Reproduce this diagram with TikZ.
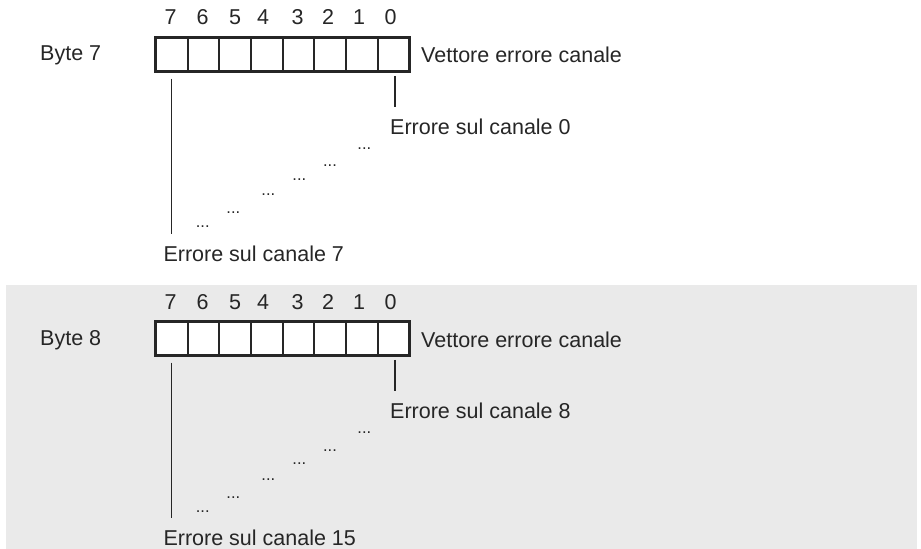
\documentclass[tikz,border=0pt]{standalone}
\usepackage{fontspec}
\setmainfont{Liberation Sans}
\definecolor{ink}{HTML}{262626}
\definecolor{panel}{HTML}{EAEAEA}
\begin{document}
\begin{tikzpicture}[x=1bp,y=-1bp,
  txt/.style={inner sep=0pt,text=ink,font=\fontsize{21.5bp}{25bp}\selectfont},
  dotslbl/.style={inner sep=0pt,text=ink,font=\fontsize{16.5bp}{19bp}\selectfont},
  cell/.style={draw=ink,line width=1.8bp,minimum width=31.67bp,minimum height=33bp,inner sep=0pt,fill=white},
  frame/.style={draw=ink,line width=2.4bp},
  conn/.style={draw=ink,line width=1.1bp}]
\useasboundingbox (0,0) rectangle (921,549);
\fill[panel] (6,285) rectangle (917,549);
\foreach \off/\byte/\lo/\hi in {0/7/0/7,284/8/8/15}{
  \begin{scope}[yshift=-\off bp]
  \foreach \b in {0,...,7}{
    \node[cell] (c\byte b\b) at ({156+15.83+(7-\b)*31.67},54.2) {};
  }
  \draw[frame] (c\byte b7.north west) rectangle (c\byte b0.south east);
  \foreach \b/\x in {7/170.7,6/202.7,5/235,4/263,3/297.7,2/328,1/359,0/390.7}{
    \node[txt,anchor=base] (n\byte b\b) at (\x,25) {\b};
  }
  \node[txt,anchor=base west] (byte\byte) at (40,61) {Byte \byte};
  \node[txt,anchor=base west] (vec\byte) at (421,63) {Vettore errore canale};
  \node[txt,anchor=base west] (lo\byte) at (390,134.3) {Errore sul canale \lo};
  \node[txt,anchor=base west] (hi\byte) at (163.3,261.7) {Errore sul canale \hi};
  \foreach \i/\x/\y in {1/364.3/149.5,2/330/167,3/299.3/180.5,4/268.3/196,5/233.3/214,6/202.7/228}{
    \node[dotslbl,anchor=base] (d\byte n\i) at (\x,\y) {...};
  }
  \draw[conn,shorten >=11.5bp] ([xshift=1.5bp,yshift=-4.3bp]c\byte b0.south) -- ([xshift=1.5bp]c\byte b0.south |- lo\byte.north);
  \draw[conn,shorten >=11.7bp] ([yshift=-7bp]c\byte b7.south) -- (c\byte b7.south |- hi\byte.north);
  \end{scope}
}
\end{tikzpicture}
\end{document}
